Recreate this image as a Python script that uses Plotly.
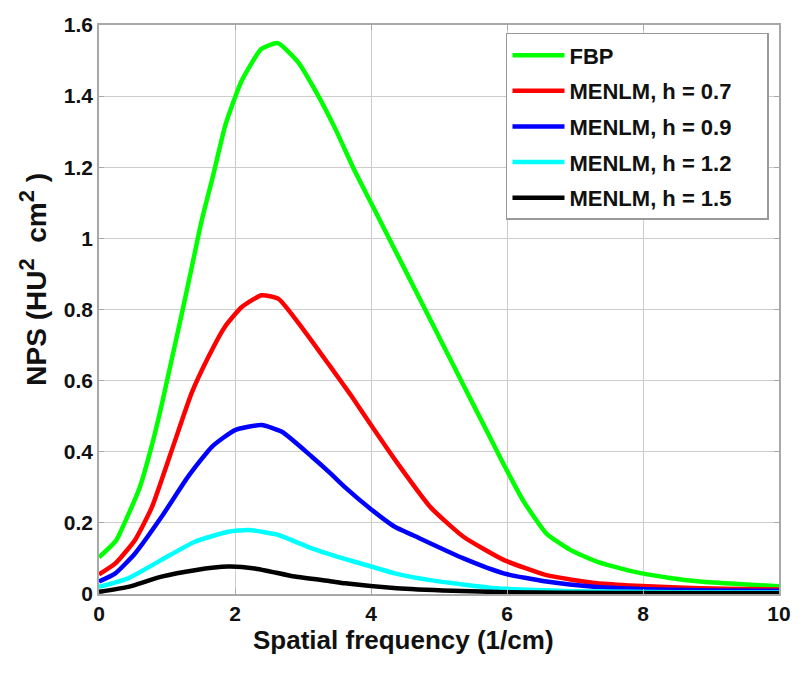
import plotly.graph_objects as go

# ---- data ----
fbp_x = [0, 0.25, 0.4, 0.6, 0.78, 0.92, 1.07, 1.22, 1.36, 1.51, 1.66, 1.85, 1.95, 2.10, 2.39, 2.63,
         2.93, 3.18, 3.47, 3.76, 4.0, 4.38, 4.72, 5.06, 5.36, 5.65, 5.95, 6.24, 6.58, 6.93, 7.32,
         7.81, 8.4, 8.84, 9.4, 10]
fbp_y = [0.103, 0.15, 0.21, 0.30, 0.42, 0.53, 0.66, 0.79, 0.915, 1.05, 1.163, 1.313, 1.37, 1.444, 1.533, 1.549,
         1.495, 1.416, 1.31, 1.19, 1.10, 0.957, 0.829, 0.70, 0.587, 0.478, 0.365, 0.262, 0.170, 0.124, 0.091,
         0.065, 0.045, 0.035, 0.028, 0.022]

h07_x = [0, 0.24, 0.53, 0.78, 1.07, 1.36, 1.61, 1.85, 2.10, 2.39, 2.64, 3.0, 3.4, 3.7, 4.0, 4.38,
         4.87, 5.36, 5.95, 6.58, 7.32, 7.81, 8.5, 9.2, 10]
h07_y = [0.055, 0.086, 0.152, 0.245, 0.404, 0.564, 0.667, 0.751, 0.807, 0.84, 0.83, 0.745, 0.64, 0.56, 0.475, 0.37,
         0.245, 0.161, 0.096, 0.053, 0.030, 0.024, 0.018, 0.015, 0.013]

h09_x = [0, 0.24, 0.53, 0.92, 1.31, 1.66, 2.0, 2.39, 2.69, 3.13, 3.4, 3.62, 3.99, 4.35, 4.62, 5.36,
         5.95, 6.58, 7.32, 8.2, 9.0, 10]
h09_y = [0.035, 0.058, 0.114, 0.217, 0.33, 0.414, 0.461, 0.475, 0.456, 0.386, 0.34, 0.30, 0.240, 0.189, 0.165, 0.10,
         0.058, 0.035, 0.020, 0.013, 0.010, 0.009]

h12_x = [0, 0.43, 0.92, 1.41, 1.90, 2.20, 2.64, 3.13, 3.5, 3.99, 4.35, 4.87, 5.85, 7.0, 8.5, 10]
h12_y = [0.02, 0.044, 0.096, 0.147, 0.175, 0.18, 0.166, 0.128, 0.105, 0.078, 0.058, 0.039, 0.016, 0.008, 0.005, 0.004]

h15_x = [0, 0.43, 0.92, 1.41, 1.90, 2.29, 2.88, 3.40, 3.62, 4.38, 5.2, 6.0, 7.5, 10]
h15_y = [0.006, 0.02, 0.049, 0.067, 0.077, 0.072, 0.049, 0.036, 0.03, 0.016, 0.009, 0.005, 0.003, 0.002]

series_names = ["FBP", "MENLM, h = 0.7", "MENLM, h = 0.9", "MENLM, h = 1.2", "MENLM, h = 1.5"]
series_x = [fbp_x, h07_x, h09_x, h12_x, h15_x]
series_y = [fbp_y, h07_y, h09_y, h12_y, h15_y]
series_colors = ["#00ff00", "#ff0000", "#0000ff", "#00ffff", "#000000"]

x_ticks = [0, 2, 4, 6, 8, 10]
y_ticks = [0, 0.2, 0.4, 0.6, 0.8, 1, 1.2, 1.4, 1.6]
y_tick_text = ["0", "0.2", "0.4", "0.6", "0.8", "1", "1.2", "1.4", "1.6"]

x_title = "Spatial frequency (1/cm)"
y_title = ("NPS (HU<sup><span style='font-size:22px'>2</span></sup>&nbsp;&nbsp;cm"
           "<sup><span style='font-size:22px'>2</span></sup>&nbsp;)")

fig = go.Figure()
for i, (name, xs, ys, col) in enumerate(zip(series_names, series_x, series_y, series_colors)):
    fig.add_trace(go.Scatter(x=xs, y=ys, mode="lines", name=name + "&nbsp;&nbsp;&nbsp;&nbsp;&nbsp;",
                             legendgroup=f"g{i}",
                             line=dict(color=col, width=4.5, shape="spline", smoothing=0.5)))

font_main = "Liberation Sans, Arial, sans-serif"
axis_common = dict(
    showline=True, linecolor="#a8a8a8", linewidth=1.5, mirror="ticks",
    showgrid=True, gridcolor="#cccccc", gridwidth=1,
    ticks="inside", ticklen=5, tickcolor="#a8a8a8",
    zeroline=False, automargin=False,
    tickfont=dict(family=font_main, size=21, color="#111111", weight="bold"),
)

# the page body adds an 8px offset, so the figure is 8px smaller than the window
fig.update_layout(
    width=792, height=666,
    margin=dict(l=91, r=21, t=17, b=80),
    plot_bgcolor="white", paper_bgcolor="white",
    xaxis=dict(range=[0, 10], tickvals=x_ticks, ticklabelstandoff=0, **axis_common),
    yaxis=dict(range=[0, 1.6], tickvals=y_ticks, ticktext=y_tick_text, ticklabelstandoff=0,
               **axis_common),
    legend=dict(x=0.5985, y=0.986, xanchor="left", yanchor="top",
                bgcolor="white", bordercolor="#999999", borderwidth=1.5,
                font=dict(family=font_main, size=22, color="#111111", weight="bold"),
                traceorder="grouped", tracegroupgap=4, itemwidth=52),
    showlegend=True,
)

fig.add_annotation(text=x_title, xref="paper", yref="paper", x=0.4485, y=-0.081,
                   xanchor="center", yanchor="middle", showarrow=False,
                   font=dict(family=font_main, size=26, color="#111111", weight="bold"))
fig.add_annotation(text=y_title, xref="paper", yref="paper", x=-0.0965, y=0.553,
                   xanchor="center", yanchor="middle", textangle=-90, showarrow=False,
                   font=dict(family=font_main, size=28, color="#111111", weight="bold"))

fig.write_html("out.html")
